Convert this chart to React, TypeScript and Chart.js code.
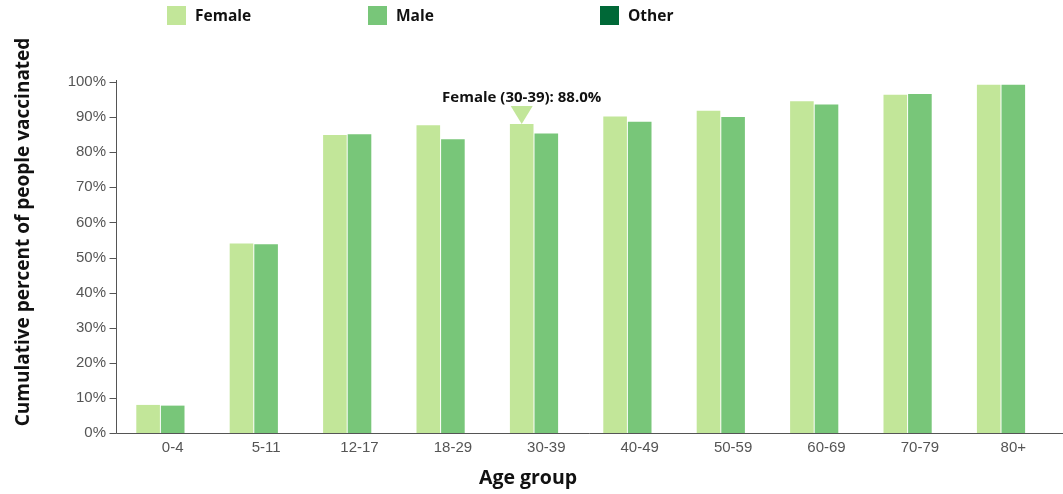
import React, { useEffect, useRef } from "react";
import { Chart, registerables } from "chart.js";

Chart.register(...registerables);

const ageGroups = ["0-4", "5-11", "12-17", "18-29", "30-39", "40-49", "50-59", "60-69", "70-79", "80+"];
const femaleValues = [8.0, 54.0, 84.9, 87.7, 88.0, 90.2, 91.8, 94.5, 96.4, 99.2];
const maleValues = [7.8, 53.8, 85.1, 83.7, 85.3, 88.7, 90.0, 93.6, 96.6, 99.2];
const otherValues: (number | null)[] = [null, null, null, null, null, null, null, null, null, null];
const seriesNames = ["Female", "Male", "Other"];
const seriesColors = ["#c2e699", "#78c679", "#006837"];
const yTickValues = [0, 10, 20, 30, 40, 50, 60, 70, 80, 90, 100];
const yTitle = "Cumulative percent of people vaccinated";
const xTitle = "Age group";
const highlightSeries = 0;
const highlightIndex = 4;

const TITLE_FONT = "'Open Sans', 'Noto Sans', sans-serif";
const TICK_FONT = "'Liberation Sans', Arial, sans-serif";

const overlayPlugin = {
  id: "overlay",
  afterDraw(chart: any) {
    const ctx = chart.ctx as CanvasRenderingContext2D;
    const area = chart.chartArea;
    const y = chart.scales.y;
    ctx.save();

    // axes
    const axisX = Math.round(area.left - 10) + 0.5;
    const bottom = Math.round(area.bottom) + 0.5;
    ctx.strokeStyle = "#555";
    ctx.lineWidth = 1;
    ctx.beginPath();
    ctx.moveTo(axisX, y.getPixelForValue(yTickValues[yTickValues.length - 1]) - 2);
    ctx.lineTo(axisX, bottom);
    ctx.lineTo(chart.width, bottom);
    yTickValues.forEach((v) => {
      const py = Math.round(y.getPixelForValue(v)) + 0.5;
      ctx.moveTo(axisX - 7, py);
      ctx.lineTo(axisX, py);
    });
    ctx.stroke();

    // y title
    ctx.fillStyle = "#111";
    ctx.font = `bold 19px ${TITLE_FONT}`;
    ctx.textAlign = "center";
    ctx.textBaseline = "middle";
    ctx.save();
    ctx.translate(24, 232);
    ctx.rotate(-Math.PI / 2);
    ctx.fillText(yTitle, 0, 0);
    ctx.restore();

    // x title
    ctx.font = `bold 19.5px ${TITLE_FONT}`;
    ctx.fillText(xTitle, 528, 478);

    // legend
    const legendX = [167, 368, 600];
    ctx.textAlign = "left";
    ctx.font = `bold 15.5px ${TITLE_FONT}`;
    seriesNames.forEach((name, i) => {
      ctx.fillStyle = seriesColors[i];
      ctx.fillRect(legendX[i], 6, 19, 19);
      ctx.fillStyle = "#111";
      ctx.fillText(name, legendX[i] + 28, 16.5);
    });

    // highlight tooltip
    const el = chart.getDatasetMeta(highlightSeries).data[highlightIndex];
    if (el) {
      const bx = el.x;
      const by = el.y;
      ctx.fillStyle = seriesColors[highlightSeries];
      ctx.beginPath();
      ctx.moveTo(bx - 11, by - 18);
      ctx.lineTo(bx + 11, by - 18);
      ctx.lineTo(bx, by);
      ctx.closePath();
      ctx.fill();
      const value = femaleValues[highlightIndex];
      const label = `${seriesNames[highlightSeries]} (${ageGroups[highlightIndex]}): ${value.toFixed(1)}%`;
      ctx.fillStyle = "#111";
      ctx.textAlign = "center";
      ctx.textBaseline = "alphabetic";
      ctx.font = `bold 15px ${TITLE_FONT}`;
      ctx.fillText(label, bx, by - 22);
    }
    ctx.restore();
  },
};

export default function App() {
  const canvasRef = useRef<HTMLCanvasElement | null>(null);

  useEffect(() => {
    const canvas = canvasRef.current;
    if (!canvas) return;
    const seriesData = [femaleValues, maleValues, otherValues];
    const chart = new Chart(canvas, {
      type: "bar",
      data: {
        labels: ageGroups,
        datasets: seriesNames.map((name, i) => ({
          label: name,
          data: seriesData[i],
          backgroundColor: seriesColors[i],
          borderWidth: 0,
          categoryPercentage: 0.79,
          barPercentage: 0.96,
        })),
      },
      options: {
        responsive: false,
        animation: false,
        devicePixelRatio: 1,
        events: [],
        layout: { padding: { top: 82, right: 3, bottom: 0, left: 0 } },
        plugins: {
          legend: { display: false },
          tooltip: { enabled: false },
          title: { display: false },
        },
        scales: {
          x: {
            grid: { display: false, drawTicks: false },
            border: { display: false },
            ticks: {
              color: "#555",
              padding: 6,
              maxRotation: 0,
              autoSkip: false,
              font: { family: TICK_FONT, size: 15 },
            },
            afterFit: (s: any) => {
              s.height = 61;
            },
          },
          y: {
            min: 0,
            max: 100,
            grid: { display: false, drawTicks: false },
            border: { display: false },
            ticks: {
              stepSize: 10,
              color: "#555",
              padding: 20,
              font: { family: TICK_FONT, size: 15 },
              callback: (v: any) => `${v}%`,
            },
            afterFit: (s: any) => {
              s.width = 126;
            },
          },
        },
      },
      plugins: [overlayPlugin],
    });
    return () => chart.destroy();
  }, []);

  return (
    <div style={{ position: "fixed", left: 0, top: 0, width: 1063, height: 494, background: "#fff" }}>
      <canvas ref={canvasRef} width={1063} height={494} style={{ display: "block" }} />
    </div>
  );
}
